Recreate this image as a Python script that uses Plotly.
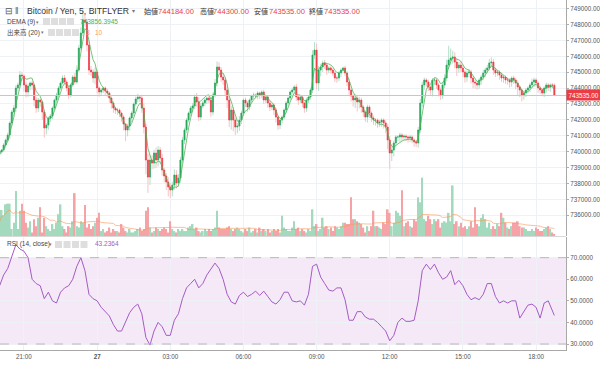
import numpy as np
import pandas as pd
import plotly.graph_objects as go

# ---------------- data ----------------
start_time = "2018-09-26 20:00"
first_open = 739850

closes = [
739980, 740105, 740420, 740735, 741050, 741805, 742495, 742745, 744005, 744195,
744825, 744760, 744195, 743755, 744130, 744320, 744195, 743250, 742745, 743250,
743125, 742495, 741490, 741675, 742120, 742245, 742745, 743250, 743565, 744005,
744320, 744635, 744380, 744005, 743565, 744195, 744695, 744380, 745135, 746520,
747465, 748280, 748155, 746710, 745135, 745010, 744635, 745010, 744005, 743755,
743880, 744005, 743815, 743690, 743375, 743060, 742745, 742620, 742620, 742430,
742180, 741740, 741365, 741615, 742120, 742430, 742998, 743315, 743440, 743375,
742745, 741550, 739475, 738405, 739475, 739285, 739915, 739475, 740105, 739600,
738845, 738470, 738090, 737780, 737590, 737905, 738530, 738030, 738345, 739475,
740735, 741365, 741990, 742430, 742745, 742875, 743440, 743125, 742180, 742875,
743060, 743250, 743375, 743250, 742495, 743565, 744320, 745325, 745135, 744695,
744510, 743880, 743250, 741990, 742620, 741990, 741550, 741615, 741990, 742430,
743250, 743060, 742810, 743250, 743500, 743565, 743500, 743690, 743565, 743755,
743250, 743440, 743060, 742810, 742935, 742620, 742180, 741675, 741990, 742180,
742620, 743060, 743375, 743755, 743880, 744070, 743440, 743250, 743440, 743060,
742745, 743250, 743440, 743880, 746080, 746395, 744320, 745135, 745325, 745580,
745450, 745135, 745265, 745135, 744950, 744635, 744635, 744950, 745135, 745265,
744950, 744380, 743880, 743500, 743250, 743375, 743125, 743250, 742810, 742495,
742180, 742810, 742430, 742120, 741990, 741990, 741805, 741865, 741990, 741805,
741550, 740735, 739915, 740105, 740545, 740925, 740925, 741050, 740925, 740985,
740925, 740860, 740925, 740735, 740610, 740545, 741365, 743060, 744195, 744510,
744380, 744070, 743880, 744510, 744510, 744195, 743880, 743565, 744195, 744635,
745450, 745765, 745890, 745955, 745640, 745265, 745450, 745265, 745010, 744695,
744950, 745010, 744635, 744380, 744320, 744195, 744510, 744695, 744950, 745135,
745265, 745580, 745640, 745135, 744950, 745010, 744825, 744635, 744695, 744510,
744510, 744380, 744635, 744510, 744320, 744070, 743880, 743565, 743690, 743880,
744005, 744195, 744380, 744510, 744320, 744005, 743880, 743690, 744005, 744195,
744070, 744195, 744184, 743535]

# upper / lower shadow lengths (yen)
wick_up = [
80,60,120,90,150,100,130,200,180,150, 250,200,120,180,150,100,120,90,200,150,
80,100,150,120,90,130,100,80,150,120, 100,180,200,120,150,100,120,250,300,200,
350,700,400,200,300,250,200,300,150,100, 120,80,100,150,90,100,120,80,150,100,
90,120,80,150,100,120,90,150,200,120, 150,300,200,400,350,300,200,350,250,200,
250,150,200,300,250,200,350,300,250,200, 200,150,120,100,150,200,150,250,300,200,
150,120,100,150,200,150,250,350,300,200, 250,150,200,300,250,200,150,200,250,150,
100,150,120,100,80,150,100,120,90,100, 150,100,120,150,100,120,150,100,80,120,
100,120,90,100,150,120,200,150,100,120, 90,150,120,150,300,500,400,250,200,150,
200,150,120,150,100,120,150,100,120,90, 150,120,200,150,100,250,150,200,150,120,
100,150,120,100,150,120,100,150,120,100, 150,200,250,200,150,120,100,150,120,100,
120,100,150,120,100,150,200,250,200,150, 120,150,100,120,150,100,120,150,200,250,
350,900,600,400,300,250,200,250,200,150, 150,200,150,120,150,100,120,150,200,150,
200,250,300,200,150,120,100,150,120,100, 150,120,100,150,120,150,120,100,150,120,
100,150,200,150,120,100,150,120,100,150, 120,100,120,116]
wick_dn = [
150,100,120,200,150,250,200,300,250,200, 200,300,400,350,300,250,300,400,300,250,
300,500,600,400,300,250,200,150,200,150, 120,100,150,200,250,150,120,150,100,120,
150,200,300,400,300,250,300,400,350,300, 250,200,300,250,300,350,300,250,300,250,
300,400,700,400,300,250,200,150,200,250, 300,400,900,1000,500,400,350,500,400,300,
350,400,500,600,500,400,300,350,250,300, 200,250,200,150,200,250,200,300,250,200,
150,200,250,200,300,200,150,200,250,300, 300,400,500,450,600,700,500,400,300,250,
200,250,300,200,150,200,150,200,250,200, 250,200,300,250,200,300,350,300,250,200,
150,200,150,120,150,200,250,300,200,250, 300,250,200,150,200,250,400,500,400,300,
250,300,200,250,200,250,300,200,250,200, 200,250,300,350,400,500,600,400,350,300,
300,350,300,250,300,350,300,250,300,350, 400,600,1000,500,400,300,250,300,250,200,
250,300,250,200,300,250,300,200,250,300, 300,250,300,400,300,250,400,300,250,200,
200,250,300,350,400,500,300,250,300,350, 300,250,350,400,350,300,250,300,200,250,
200,150,200,300,250,200,300,250,300,250, 300,350,300,250,400,500,450,400,300,250,
200,250,200,300,250,300,250,200,250,300, 250,300,200,0]

volumes = [
20,37,29,45,46,46,10,19,64,10, 36,46,36,19,12,21,5,24,14,26,
41,5,26,14,10,7,17,10,19,31, 45,14,10,5,14,12,21,61,14,12,
21,19,44,12,17,10,14,19,26,33, 7,10,5,7,12,5,10,7,7,5,
17,12,7,5,10,5,5,7,10,12, 7,10,36,41,12,5,7,12,10,7,
10,12,10,5,21,10,7,5,10,7, 10,7,7,12,14,17,10,12,7,5,
7,10,7,10,7,10,12,36,12,10, 10,10,12,14,10,7,10,12,10,7,
5,10,7,12,5,7,10,5,12,7, 10,7,10,5,7,10,7,10,5,29,
12,10,7,7,12,21,10,12,7,10, 7,5,10,7,38,14,17,7,10,26,
12,14,10,12,7,14,12,10,14,19, 19,17,17,55,24,24,21,19,17,12,
5,14,7,14,36,14,14,12,10,19, 17,38,33,14,19,36,33,29,65,14,
19,21,14,12,24,21,55,48,83,24, 21,29,24,17,24,21,24,12,19,21,
19,33,21,72,17,21,14,19,12,14, 10,14,21,12,41,17,14,26,31,24,
12,19,10,14,10,17,14,33,26,19, 12,10,14,19,19,21,14,12,12,10,
7,7,10,7,12,10,7,7,10,12, 14,10,5,3]

# RSI(14) read every second candle, plus the last candle
rsi_values = [
57,62,65,71,76,74,73,70,60,58, 57,51,54,50,49,54,56,57,60,66,
70,64,53,51,50,47,45,43,39,36, 36,40,44.5,47,48.5,44,33,29.5,36,40,
38,34,34,41,44,51,56,58,60,56, 58,62,65,67.5,65,60,53,49.5,48.5,52.5,
54,52,53,54.5,52.5,54.5,52,49.5,48.5,50.5, 54,54,50,49.5,50,48,53,66,67,61,
58,55,54.5,56,56,50.5,41,41,45,45, 42.5,41.5,41.5,40,38,36,31.5,34,40,42,
40.5,40.5,41,50,64,67,64.5,67,63,60, 61,64,57.5,59.5,57,53,50.5,51.5,50.5,53,
58,58,52,49,50,49,50,50,42,45, 48,48.5,47,42,49,50,45, 43.2364]

price_ticks = list(range(736000, 749001, 1000))
rsi_ticks = [30, 40, 50, 60, 70]
time_tick_vals = ["2018-09-26 21:00", "2018-09-27 00:00", "2018-09-27 03:00", "2018-09-27 06:00",
                  "2018-09-27 09:00", "2018-09-27 12:00", "2018-09-27 15:00", "2018-09-27 18:00"]
time_tick_text = ["21:00", "<b>27</b>", "03:00", "06:00", "09:00", "12:00", "15:00", "18:00"]
last_price = 743535

# ---------------- derived series ----------------
n = len(closes)
times = pd.date_range(start_time, periods=n, freq="5min")
opens = [first_open] + closes[:-1]
highs = [max(o, c) + u for o, c, u in zip(opens, closes, wick_up)]
lows = [min(o, c) - d for o, c, d in zip(opens, closes, wick_dn)]
body_hi = [max(o, c) for o, c in zip(opens, closes)]
body_lo = [min(o, c) for o, c in zip(opens, closes)]

cs = pd.Series(closes, dtype=float)
e1 = cs.ewm(span=9, adjust=False).mean()
e2 = e1.ewm(span=9, adjust=False).mean()
dema = 2 * e1 - e2
vol_ma = pd.Series(volumes, dtype=float).rolling(20, min_periods=1).mean()
vol_colors = ["#a3d9bd" if c >= o else "#f5a3a6" for o, c in zip(opens, closes)]
rsi_times = list(times[0::2]) + [times[-1]]

# ---------------- figure ----------------
W, H = 600, 366
ML, MR, MT, MB = 0, 34, 0, 16
PW, PH = W - ML - MR, H - MT - MB
FONT = "Liberation Sans, Arial, Noto Sans CJK JP, sans-serif"


def px(x):
    return (x - ML) / PW


def py(y):
    return (PH + MT - y) / PH


GREEN, RED = "#26a65b", "#ec3b45"
PALE_G, PALE_R = "#b3e0c8", "#f7c2c5"
GRID = "#eef1f5"

fig = go.Figure()
fig.add_trace(go.Bar(x=times, y=volumes, marker=dict(color=vol_colors, line=dict(width=0)),
                     xaxis="x", yaxis="y", showlegend=False, hoverinfo="skip"))
fig.add_trace(go.Scatter(x=times, y=vol_ma, mode="lines", line=dict(color="rgba(247,150,90,0.6)", width=1),
                         xaxis="x", yaxis="y", showlegend=False, hoverinfo="skip"))
fig.add_trace(go.Candlestick(x=times, open=opens, high=highs, low=lows, close=closes,
                             increasing=dict(line=dict(color=PALE_G, width=1), fillcolor=PALE_G),
                             decreasing=dict(line=dict(color=PALE_R, width=1), fillcolor=PALE_R),
                             xaxis="x", yaxis="y3", showlegend=False, hoverinfo="skip"))
fig.add_trace(go.Candlestick(x=times, open=opens, high=body_hi, low=body_lo, close=closes,
                             increasing=dict(line=dict(color=GREEN, width=0.6), fillcolor=GREEN),
                             decreasing=dict(line=dict(color=RED, width=0.6), fillcolor=RED),
                             whiskerwidth=0,
                             xaxis="x", yaxis="y3", showlegend=False, hoverinfo="skip"))
fig.add_trace(go.Scatter(x=times, y=dema, mode="lines", line=dict(color="rgba(76,175,80,0.75)", width=1),
                         xaxis="x", yaxis="y3", showlegend=False, hoverinfo="skip"))
fig.add_trace(go.Scatter(x=rsi_times, y=rsi_values, mode="lines", line=dict(color="#a35cc4", width=1),
                         xaxis="x2", yaxis="y2", showlegend=False, hoverinfo="skip"))

x_range = ["2018-09-26 20:00:59", "2018-09-27 19:13:42"]
price_range = [734697, 749541]
price_dom = [py(236), 1]
rsi_dom = [0, py(237)]
AXF = dict(size=6.3, color="#555", family=FONT)

fig.update_layout(
    width=W, height=H, margin=dict(l=ML, r=MR, t=MT, b=MB),
    paper_bgcolor="white", plot_bgcolor="white", bargap=0.2,
    font=dict(family=FONT, size=7, color="#4a4a4a"),
    xaxis=dict(domain=[0, 1], anchor="y", range=x_range, type="date",
               tickvals=time_tick_vals, showticklabels=False, showgrid=True, gridcolor=GRID,
               rangeslider=dict(visible=False), ticks="", showline=False, zeroline=False),
    yaxis=dict(domain=price_dom, range=[0, 336], visible=False, fixedrange=True),
    yaxis3=dict(overlaying="y", anchor="x", side="right", range=price_range,
                tickvals=price_ticks, tickformat=".2f", showgrid=True, gridcolor=GRID,
                ticks="outside", ticklen=2, tickcolor="#b0b0b0",
                tickfont=AXF, showline=True, linecolor="#a8a8a8",
                linewidth=1, zeroline=False),
    xaxis2=dict(domain=[0, 1], anchor="y2", matches="x", type="date", range=x_range,
                tickvals=time_tick_vals, ticktext=time_tick_text, showgrid=True, gridcolor=GRID,
                ticks="", tickfont=AXF, showline=True, linecolor="#a8a8a8",
                zeroline=False, rangeslider=dict(visible=False)),
    yaxis2=dict(domain=rsi_dom, anchor="x2", side="right", range=[27.22, 79.58],
                tickvals=rsi_ticks, ticktext=[f"{v:.4f}" for v in rsi_ticks],
                showgrid=True, gridcolor=GRID, ticks="outside", ticklen=2, tickcolor="#b0b0b0",
                tickfont=AXF, showline=True, linecolor="#a8a8a8",
                zeroline=False),
)

shapes = [
    dict(type="rect", xref="paper", yref="y2", x0=0, x1=1, y0=30, y1=70,
         fillcolor="rgba(156,39,176,0.10)", line=dict(width=0), layer="below"),
    dict(type="line", xref="paper", yref="y2", x0=0, x1=1, y0=70, y1=70,
         line=dict(color="#b8b8b8", width=1, dash="dash")),
    dict(type="line", xref="paper", yref="y2", x0=0, x1=1, y0=30, y1=30,
         line=dict(color="#b8b8b8", width=1, dash="dash")),
    dict(type="line", xref="paper", yref="y3", x0=0, x1=1, y0=last_price, y1=last_price,
         line=dict(color="#f5b3b6", width=1)),
    dict(type="line", xref="paper", yref="paper", x0=0, x1=1, y0=py(236.5), y1=py(236.5),
         line=dict(color="#d8d8d8", width=1)),
]
# legend tool icons
for (x0s, yc) in [((43, 51, 59, 67), 21.5), ((48, 56, 64, 72), 32.5), ((55, 63.5, 72, 80.5), 244.5)]:
    for x0 in x0s:
        shapes.append(dict(type="rect", xref="paper", yref="paper", x0=px(x0), x1=px(x0 + 7),
                           y0=py(yc + 3.5), y1=py(yc - 3.5), fillcolor="#dedede",
                           line=dict(width=0)))
fig.update_layout(shapes=shapes)


def txt(x, y, s, size, color, anchor="left"):
    return dict(xref="paper", yref="paper", x=px(x), y=py(y), text=s, showarrow=False,
                xanchor=anchor, yanchor="middle", font=dict(size=size, color=color, family=FONT))


VAL = "#ec3b45"
ann = [
    txt(3, 11, "⊟", 8.5, "#555"),
    txt(13, 11, "‖", 8.5, "#555"),
    txt(25, 11, "Bitcoin / Yen, 5, BITFLYER", 8.6, "#333"),
    txt(130, 11, "▾", 6, "#777"),
    txt(142, 11, "始値", 7, "#333"), txt(156, 11, "744184.00", 7.6, VAL),
    txt(198, 11, "高値", 7, "#333"), txt(211, 11, "744300.00", 7.6, VAL),
    txt(252, 11, "安値", 7, "#333"), txt(267, 11, "743535.00", 7.6, VAL),
    txt(307, 11, "終値", 7, "#333"), txt(322, 11, "743535.00", 7.6, VAL),
    txt(5, 21.7, "DEMA (9)", 6.5, "#444"), txt(34, 21.7, "▾", 5, "#777"),
    txt(78, 21.7, "743856.3945", 6.5, "#4caf50"),
    txt(5, 32.3, "出来高 (20)", 6.5, "#444"), txt(39, 32.3, "▾", 5, "#777"),
    txt(84, 32.3, "3", 6.5, "#f08080"), txt(93, 32.3, "10", 6.5, "#f5a05a"),
    txt(5, 244, "RSI (14, close)", 6.5, "#444"), txt(47, 244, "▾", 5, "#777"),
    txt(93, 244, "43.2364", 6.5, "#a35cc4"),
    dict(xref="paper", yref="y3", x=1, y=last_price, text="743535.00", showarrow=False,
         xanchor="left", yanchor="middle", xshift=0, bgcolor="#ec3b45", borderpad=1.5,
         font=dict(size=6.3, color="white", family=FONT)),
]
fig.update_layout(annotations=ann)

fig.write_html("out.html", config={"displayModeBar": False},
               post_script="document.body.style.margin='0';document.body.style.overflow='hidden';")
